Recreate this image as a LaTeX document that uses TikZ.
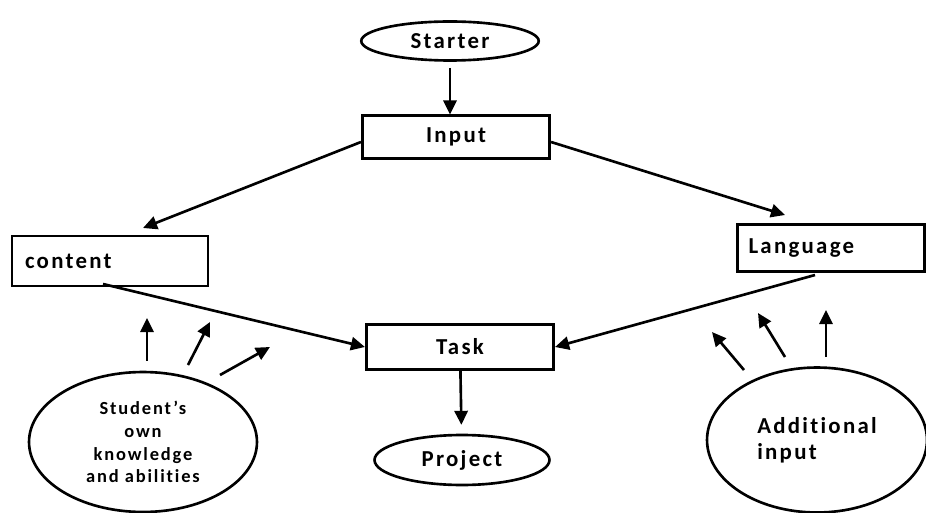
\documentclass[tikz,border=0pt]{standalone}
\usepackage{fontspec}
\setmainfont{Carlito}[LetterSpace=10, Ligatures={NoCommon}]
\usepackage{tikz}
\usetikzlibrary{shapes.geometric,arrows.meta}

\tikzset{
  box/.style={draw, line width=1.5pt, rectangle, minimum width=3.75cm, minimum height=0.85cm, font=\bfseries\fontsize{13}{15}\selectfont},
  blob/.style={draw, line width=1.5pt, ellipse, font=\bfseries\fontsize{13}{15}\selectfont},
  arr/.style={-{Triangle[length=8pt,width=7.5pt]}, line width=1.5pt},
}

\begin{document}
\begin{tikzpicture}[x=0.02cm, y=-0.02cm]
    \useasboundingbox (0,0) rectangle (926,513);

    \node (starter) [blob, minimum width=3.55cm, minimum height=0.78cm] at (450,41) {Starter};
    \node (input) [box] at (456,137) {Input};
    \node (content) [box, minimum width=3.92cm, minimum height=1cm, text width=3.4cm, align=left] at (110,261) {content};
    \node (language) [box, minimum width=3.74cm, minimum height=0.94cm, text width=3.3cm, align=left] at (831,248) {Language};
    \node (task) [box, minimum height=0.9cm] at (460,347) {Task};
    \node (project) [blob, minimum width=3.5cm, minimum height=1cm] at (462,460) {Project};
    \node (student) [blob, minimum width=4.56cm, minimum height=2.8cm, font=\bfseries\fontsize{10.5}{13}\selectfont, align=center] at (143,442) {Student's\\own\\knowledge\\and abilities};
    \node (extra) [blob, minimum width=4.4cm, minimum height=2.9cm, align=left] at (817,440) {Additional\\input};

    \coordinate (s1) at (147,318);
    \coordinate (s2) at (210,322);
    \coordinate (s3) at (270,347);
    \coordinate (e1) at (712,332);
    \coordinate (e2) at (758,313);
    \coordinate (e3) at (826,310);

    \draw [arr] (starter.south) ++(0,6) -- (starter |- input.north);
    \draw [arr] (input.west) ++(0,5) -- (143,228);
    \draw [arr] (input.east) ++(0,5) -- (785,215);
    \draw [arr] (103,284) -- (task.west);
    \draw [arr] (815,275) -- (task.east);
    \draw [arr, shorten >=5pt] (task) -- (project);

    \draw [arr] (student.north -| s1) ++(0,-10) -- (s1);
    \draw [arr] (188,365) -- (s2);
    \draw [arr] (220,375) -- (s3);
    \draw [arr] (744,370) -- (e1);
    \draw [arr] (785,357) -- (e2);
    \draw [arr] (826,357) -- (e3);
\end{tikzpicture}
\end{document}
